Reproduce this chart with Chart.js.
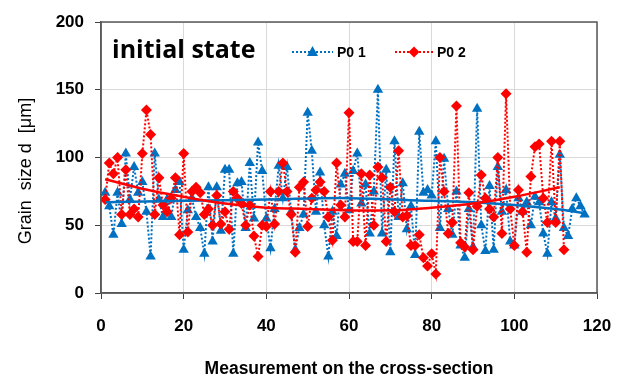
<!DOCTYPE html>
<html lang="en">
<head>
<meta charset="UTF-8">
<title>Grain size - initial state</title>
<script src="https://cdn.jsdelivr.net/npm/chart.js"></script>
<style>
  html, body { margin: 0; padding: 0; background: #fff; }
  #wrap { width: 619px; height: 376px; }
</style>
</head>
<body>
<div id="wrap"><canvas id="myChart" width="619" height="376"></canvas></div>
<script>
const p01 = [74, 64, 43, 74, 51, 103, 69, 93, 74, 82, 60, 27, 103, 69, 56, 69, 56, 76, 82, 32,
             61, 70, 56, 48, 29, 78, 38, 78, 46, 91, 91, 29, 81, 82, 48, 96, 55, 111, 90, 55,
             33, 62, 94, 70, 93, 60, 32, 48, 58, 133, 105, 60, 89, 50, 27, 60, 42, 80, 88, 61,
             90, 103, 66, 80, 44, 75, 150, 44, 91, 30, 112, 56, 81, 47, 64, 28, 119, 74, 76, 72,
             112, 48, 99, 62, 43, 75, 35, 26, 62, 34, 136, 50, 31, 79, 32, 93, 60, 76, 38, 35,
             70, 60, 67, 50, 71, 67, 44, 29, 67, 55, 102, 48, 42, 62, 70, 64, 58]
const p02 = [69, 96, 88, 100, 58, 91, 58, 62, 56, 103, 135, 117, 58, 85, 65, 60, 70, 85, 43, 103,
             45, 75, 78, 74, 58, 62, 50, 72, 51, 60, 47, 75, 70, 66, 50, 65, 42, 27, 50, 49,
             75, 51, 75, 96, 75, 58, 30, 78, 82, 49, 70, 76, 82, 75, 56, 39, 96, 65, 56, 133,
             38, 38, 88, 35, 87, 50, 93, 85, 38, 78, 60, 105, 56, 57, 35, 35, 43, 26, 20, 29,
             14, 100, 75, 44, 52, 138, 37, 34, 74, 32, 64, 87, 70, 62, 56, 100, 44, 147, 62, 35,
             76, 60, 30, 86, 108, 110, 70, 52, 112, 52, 112, 32]

// trend lines, read at a few positions
const trendBlueX = [1, 20, 40, 60, 80, 90, 100, 110, 117]
const trendBlueY = [67, 68, 69, 70, 68, 67, 65, 62, 59]
const trendRedX = [1, 10, 20, 30, 40, 50, 60, 70, 80, 90, 100, 111]
const trendRedY = [84, 77, 71, 66, 63, 62, 61, 61, 63, 66, 71, 78]

const xTicks = [0, 20, 40, 60, 80, 100, 120]
const yTicks = [0, 50, 100, 150, 200]

const blue = '#0070c0'
const red = '#ff0000'

const toPts = arr => arr.map((v, i) => ({ x: i + 1, y: v }))
const pairPts = (xs, ys) => xs.map((x, i) => ({ x: x, y: ys[i] }))

// legend + caption inside the plot, y title, and the box around the plot
const extras = {
  id: 'extras',
  afterDraw(chart) {
    const c = chart.ctx
    const a = chart.chartArea
    c.save()
    c.strokeStyle = '#595959'
    c.lineWidth = 1.5
    c.strokeRect(a.left, a.top, a.right - a.left, a.bottom - a.top)

    c.fillStyle = '#000'
    c.font = 'bold 25px "Open Sans", sans-serif'
    c.textBaseline = 'alphabetic'
    c.fillText('initial state', 112, 58)

    // y title
    c.save()
    c.translate(26, 171)
    c.rotate(-Math.PI / 2)
    c.font = '18px "Liberation Sans", Arial, sans-serif'
    c.textAlign = 'center'
    c.textBaseline = 'middle'
    c.fillText('Grain  size d  [\u03bcm]', 0, 0)
    c.restore()

    const item = (x0, x1, col, shape, label) => {
      const y = 52
      c.strokeStyle = col
      c.lineWidth = 2
      c.setLineDash([2, 2])
      c.beginPath(); c.moveTo(x0, y); c.lineTo(x1, y); c.stroke()
      c.setLineDash([])
      c.fillStyle = col
      const m = (x0 + x1) / 2
      c.beginPath()
      if (shape === 'tri') {
        c.moveTo(m, y - 6); c.lineTo(m + 5.5, y + 4); c.lineTo(m - 5.5, y + 4)
      } else {
        c.moveTo(m, y - 5.5); c.lineTo(m + 5.5, y); c.lineTo(m, y + 5.5); c.lineTo(m - 5.5, y)
      }
      c.closePath(); c.fill()
      c.fillStyle = '#000'
      c.font = 'bold 14px "Liberation Sans", Arial, sans-serif'
      c.textBaseline = 'middle'
      c.fillText(label, x1 + 4, y + 1)
    }
    item(292, 333, blue, 'tri', 'P0 1')
    item(395, 433, red, 'dia', 'P0 2')
    c.restore()
  }
}

const ctx = document.getElementById('myChart')
new Chart(ctx, {
  type: 'scatter',
  data: {
    datasets: [
      { label: 'trend P0 2', data: pairPts(trendRedX, trendRedY), showLine: true,
        borderColor: red, borderWidth: 2.5, pointRadius: 0, tension: 0.4, order: 0 },
      { label: 'trend P0 1', data: pairPts(trendBlueX, trendBlueY), showLine: true,
        borderColor: blue, borderWidth: 2.5, pointRadius: 0, tension: 0.4, order: 0 },
      { label: 'P0 2', data: toPts(p02), showLine: true, borderColor: red, borderWidth: 2,
        borderDash: [2, 2], pointStyle: 'rectRot', pointRadius: 5.5, pointBackgroundColor: red,
        pointBorderColor: red, pointBorderWidth: 0, order: 1 },
      { label: 'P0 1', data: toPts(p01), showLine: true, borderColor: blue, borderWidth: 2,
        borderDash: [2, 2], pointStyle: 'triangle', pointRadius: 6, pointBackgroundColor: blue,
        pointBorderColor: blue, pointBorderWidth: 0, order: 2 }
    ]
  },
  options: {
    responsive: false,
    animation: false,
    layout: { padding: { top: 22, right: 22, left: 0, bottom: 0 } },
    plugins: { legend: { display: false }, tooltip: { enabled: false } },
    scales: {
      x: {
        type: 'linear', min: 0, max: 120,
        afterBuildTicks: s => { s.ticks = xTicks.map(v => ({ value: v })) },
        afterFit: s => { s.height = 83; s.paddingLeft = 0; s.paddingRight = 0 },
        grid: { color: '#d9d9d9', tickColor: '#404040', tickLength: 6 },
        border: { color: '#595959', width: 1.5 },
        ticks: { color: '#000', padding: 17, maxRotation: 0,
                 font: { family: '"Liberation Sans", Arial', size: 17, weight: 'bold' } },
        title: { display: true, text: 'Measurement on the cross-section', color: '#000',
                 padding: { top: 0, bottom: -4 },
                 font: { family: '"Liberation Sans", Arial', size: 17.5, weight: 'bold' } }
      },
      y: {
        min: 0, max: 200,
        afterBuildTicks: s => { s.ticks = yTicks.map(v => ({ value: v })) },
        afterFit: s => { s.width = 101; s.paddingTop = 0; s.paddingBottom = 0 },
        grid: { color: '#d9d9d9', tickColor: '#404040', tickLength: 6 },
        border: { color: '#595959', width: 1.5 },
        ticks: { color: '#000', padding: 11,
                 font: { family: '"Liberation Sans", Arial', size: 17, weight: 'bold' } },
        title: { display: false }
      }
    }
  },
  plugins: [extras]
})
</script>
</body>
</html>
